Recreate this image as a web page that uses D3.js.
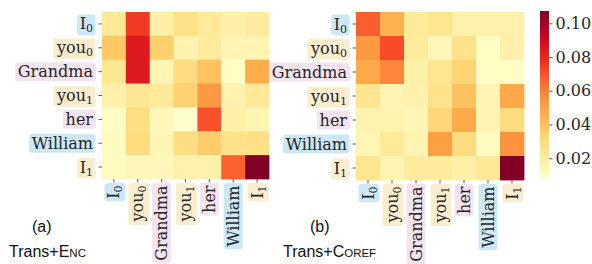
<!DOCTYPE html>
<html>
<head>
<meta charset="utf-8">
<script src="https://cdn.jsdelivr.net/npm/d3@7"></script>
<style>
  body { margin: 0; background: #fff; }
  svg { display: block; }
</style>
</head>
<body>
<svg id="chart" width="592" height="264"></svg>
<script>
// tokens: base word, subscript, highlight kind
var tokens = ["I", "you", "Grandma", "you", "her", "William", "I"];
var subs = ["0", "0", "", "1", "", "", "1"];
var kinds = ["blue", "beige", "pink", "beige", "pink", "blue", "beige"];

// attention weights, rows = query token, cols = key token
var encValues = [
  [0.023, 0.075, 0.018, 0.028, 0.022, 0.018, 0.021],
  [0.038, 0.084, 0.035, 0.016, 0.021, 0.015, 0.015],
  [0.024, 0.084, 0.014, 0.030, 0.040, 0.010, 0.047],
  [0.017, 0.024, 0.022, 0.034, 0.053, 0.016, 0.023],
  [0.010, 0.029, 0.013, 0.008, 0.070, 0.018, 0.015],
  [0.011, 0.030, 0.014, 0.029, 0.036, 0.027, 0.028],
  [0.011, 0.013, 0.013, 0.017, 0.017, 0.066, 0.107]
];
var corefValues = [
  [0.067, 0.045, 0.022, 0.025, 0.017, 0.017, 0.017],
  [0.053, 0.071, 0.021, 0.013, 0.026, 0.010, 0.017],
  [0.048, 0.058, 0.018, 0.025, 0.033, 0.010, 0.010],
  [0.025, 0.015, 0.017, 0.026, 0.040, 0.015, 0.048],
  [0.016, 0.016, 0.014, 0.032, 0.048, 0.015, 0.030],
  [0.014, 0.022, 0.015, 0.051, 0.030, 0.011, 0.055],
  [0.025, 0.015, 0.021, 0.021, 0.018, 0.023, 0.107]
];
var cbarTicks = [0.02, 0.04, 0.06, 0.08, 0.10];
var cbarDomain = [0.0077, 0.1073];

var kindColor = { blue: "#cde8f5", beige: "#fbedd0", pink: "#f3e4f0" };

var svg = d3.select("#chart");
var color = d3.scaleSequential(d3.interpolateYlOrRd).domain(cbarDomain);
var idx = d3.range(tokens.length);

function addLabel(g, i) {
  var t = g.append("text")
    .style("font-family", "DejaVu Serif")
    .style("font-size", "16px")
    .attr("fill", "#262626");
  t.append("tspan").text(tokens[i]);
  if (subs[i]) {
    t.append("tspan").attr("dy", 3).style("font-size", "11px").text(subs[i]);
  }
  return t;
}

function boxBehind(g, t, i) {
  var bb = t.node().getBBox();
  g.insert("rect", "text")
    .attr("x", bb.x - 2.5).attr("y", bb.y)
    .attr("width", bb.width + 5).attr("height", bb.height)
    .attr("rx", 3)
    .attr("fill", kindColor[kinds[i]]);
}

function heatmap(x0, y0, size, values) {
  var x = d3.scaleBand().domain(idx).range([x0, x0 + size]);
  var y = d3.scaleBand().domain(idx).range([y0, y0 + size]);
  var g = svg.append("g");

  values.forEach(function(row, r) {
    g.selectAll(null)
      .data(row)
      .enter()
      .append("rect")
      .attr("x", function(d, c) { return x(c); })
      .attr("y", y(r))
      .attr("width", x.bandwidth() + 0.4)
      .attr("height", y.bandwidth() + 0.4)
      .attr("fill", function(d) { return color(d); });
  });

  // y ticks + labels
  idx.forEach(function(i) {
    var cy = y(i) + y.bandwidth() / 2;
    g.append("line")
      .attr("x1", x0 - 3.5).attr("x2", x0)
      .attr("y1", cy).attr("y2", cy)
      .attr("stroke", "#333").attr("stroke-width", 0.8);
    var lg = g.append("g").attr("transform", "translate(" + (x0 - 9) + "," + (cy + 5.5) + ")");
    var t = addLabel(lg, i).attr("text-anchor", "end");
    boxBehind(lg, t, i);
  });

  // x ticks + rotated labels
  idx.forEach(function(i) {
    var cx = x(i) + x.bandwidth() / 2;
    g.append("line")
      .attr("x1", cx).attr("x2", cx)
      .attr("y1", y0 + size).attr("y2", y0 + size + 3.5)
      .attr("stroke", "#333").attr("stroke-width", 0.8);
    var lg = g.append("g").attr("transform", "translate(" + (cx + 5.5) + "," + (y0 + size + 6.5) + ") rotate(-90)");
    var t = addLabel(lg, i).attr("text-anchor", "end");
    boxBehind(lg, t, i);
  });
}

heatmap(102, 12, 167, encValues);
heatmap(356, 12, 168, corefValues);

// colorbar
var cb = { x: 540, y: 11, w: 9, h: 168 };
var grad = svg.append("defs").append("linearGradient")
  .attr("id", "cbar").attr("x1", 0).attr("y1", 1).attr("x2", 0).attr("y2", 0);
d3.range(0, 1.0001, 0.05).forEach(function(t) {
  grad.append("stop").attr("offset", t).attr("stop-color", d3.interpolateYlOrRd(t));
});
svg.append("rect")
  .attr("x", cb.x).attr("y", cb.y).attr("width", cb.w).attr("height", cb.h)
  .attr("fill", "url(#cbar)");

var cbScale = d3.scaleLinear().domain(cbarDomain).range([cb.y + cb.h, cb.y]);
var cbAxis = svg.append("g")
  .attr("transform", "translate(" + (cb.x + cb.w) + ",0)")
  .call(d3.axisRight(cbScale).tickValues(cbarTicks).tickFormat(d3.format(".2f")).tickSize(3.5).tickPadding(3));
cbAxis.select(".domain").remove();
cbAxis.selectAll("line").attr("stroke", "#333").attr("stroke-width", 0.8);
cbAxis.selectAll("text")
  .style("font-family", "DejaVu Serif")
  .style("font-size", "16px")
  .attr("fill", "#262626");

// panel captions
function caption(x, y, letter) {
  svg.append("text")
    .attr("x", x).attr("y", y)
    .style("font-family", "Liberation Sans")
    .style("font-size", "16px")
    .attr("fill", "#111")
    .text(letter);
}
function title(x, y, big, small) {
  var t = svg.append("text")
    .attr("x", x).attr("y", y)
    .style("font-family", "Liberation Sans")
    .style("font-size", "16px")
    .attr("fill", "#111");
  t.append("tspan").text(big);
  t.append("tspan").style("font-size", "11.5px").text(small);
}

caption(32, 232, "(a)");
title(9, 257, "Trans+E", "NC");
caption(310, 232, "(b)");
title(283, 257, "Trans+C", "OREF");
</script>
</body>
</html>
